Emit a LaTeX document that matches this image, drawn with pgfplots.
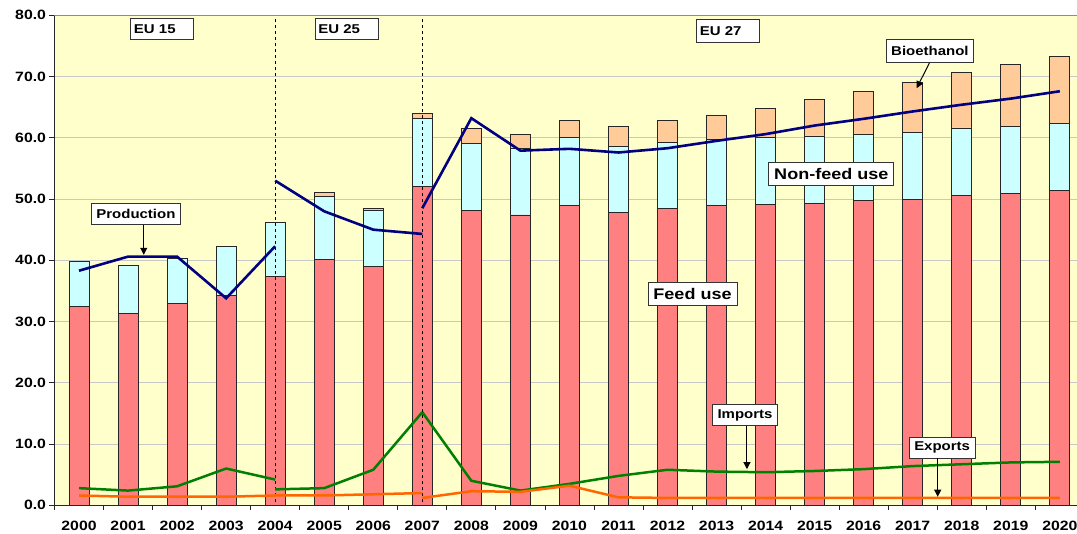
\documentclass[border=0pt]{standalone}
\usepackage{fontspec}
\setmainfont{Liberation Sans}[FakeStretch=1.17]
\usepackage{pgfplots}
\pgfplotsset{compat=1.18}
\usetikzlibrary{arrows.meta}
\definecolor{bgyellow}{HTML}{FFFFCC}
\definecolor{feedred}{HTML}{FF8080}
\definecolor{nfcyan}{HTML}{CCFFFF}
\definecolor{biopeach}{HTML}{FFCC99}
\definecolor{gridgray}{HTML}{C8C8C8}
\definecolor{barline}{HTML}{262626}
\definecolor{prodnavy}{HTML}{000080}
\definecolor{impgreen}{HTML}{008000}
\definecolor{exporange}{HTML}{FF6600}
\tikzset{
  lbl/.style={draw=black!80, fill=white, line width=0.8pt, inner xsep=5pt,
              font=\bfseries\fontsize{12.8}{14}\selectfont, minimum height=21pt},
  big/.style={lbl, font=\bfseries\fontsize{15.4}{16}\selectfont, minimum height=23pt, inner xsep=5.5pt},
  eu/.style={lbl, text width=57pt, align=left, inner xsep=3pt},
  ar/.style={-{Triangle[length=7pt,width=7pt]}, line width=1pt, draw=black},
}
\pgfplotsset{
  base/.style={scale only axis, width=1022.5pt, height=490pt,
    xmin=-0.5, xmax=20.35, ymin=0, ymax=80},
}
\begin{document}
\begin{tikzpicture}
% bars
\begin{axis}[base, ybar stacked, bar width=20pt,
  axis background/.style={fill=bgyellow},
  axis x line*=bottom, axis y line*=left,
  axis line style={-, draw=black!85, line width=0.9pt},
  ytick={0,10,...,80}, ymajorgrids,
  grid style={draw=gridgray, line width=0.8pt},
  xtick={-0.5,0.5,...,20.5}, xticklabels={},
  extra x ticks={0,1,...,20},
  extra x tick labels={2000,2001,2002,2003,2004,2005,2006,2007,2008,2009,2010,2011,2012,2013,2014,2015,2016,2017,2018,2019,2020},
  extra x tick style={major tick length=0pt, tick style={draw=none}},
  tick align=outside, major tick length=5pt,
  tick style={draw=black!85, line width=0.8pt},
  /pgf/number format/assume math mode=true,
  yticklabel style={font=\bfseries\fontsize{13.5}{14}\selectfont,
    /pgf/number format/.cd, fixed, fixed zerofill, precision=1},
  xticklabel style={font=\bfseries\fontsize{13.5}{14}\selectfont, yshift=-12pt},
]
\addplot[fill=feedred, draw=barline, line width=0.9pt] coordinates {
(0,32.4) (1,31.3) (2,33.0) (3,34.2) (4,37.3) (5,40.2) (6,39.0) (7,52.1)
(8,48.1) (9,47.4) (10,49.0) (11,47.8) (12,48.5) (13,48.9) (14,49.1)
(15,49.3) (16,49.7) (17,50.0) (18,50.6) (19,50.9) (20,51.4)};
\addplot[fill=nfcyan, draw=barline, line width=0.9pt] coordinates {
(0,7.4) (1,7.8) (2,7.3) (3,8.1) (4,8.9) (5,10.2) (6,9.1) (7,11.0)
(8,10.9) (9,10.9) (10,11.0) (11,10.8) (12,10.8) (13,10.8) (14,11.0)
(15,11.0) (16,10.9) (17,10.9) (18,11.0) (19,10.9) (20,10.9)};
\addplot[fill=biopeach, draw=barline, line width=0.9pt] coordinates {
(0,0) (1,0) (2,0) (3,0) (4,0) (5,0.7) (6,0.4) (7,0.8)
(8,2.5) (9,2.3) (10,2.8) (11,3.3) (12,3.5) (13,4.0) (14,4.7)
(15,6.0) (16,7.0) (17,8.1) (18,9.1) (19,10.1) (20,10.9)};
\draw[draw=black!45, line width=0.9pt] (rel axis cs:0,1) -- (rel axis cs:1,1);
\end{axis}
% lines and labels
\begin{axis}[base, hide axis, clip=false]
\addplot[black, dashed, line width=0.8pt, dash pattern=on 3pt off 3pt] coordinates {(4,0.5) (4,79.5)};
\addplot[black, dashed, line width=0.8pt, dash pattern=on 3pt off 3pt] coordinates {(7,0.5) (7,79.5)};
% production
\addplot[prodnavy, line width=2.6pt] coordinates {(0,38.3) (1,40.6) (2,40.6) (3,33.8) (4,42.3)};
\addplot[prodnavy, line width=2.6pt] coordinates {(4,53.0) (5,48.0) (6,45.0) (7,44.3)};
\addplot[prodnavy, line width=2.6pt] coordinates {(7,48.5) (8,63.2) (9,57.9) (10,58.2)
 (11,57.6) (12,58.3) (13,59.5) (14,60.6) (15,62.0) (16,63.1) (17,64.3) (18,65.4) (19,66.4) (20,67.6)};
% imports
\addplot[impgreen, line width=2.5pt] coordinates {(0,2.8) (1,2.4) (2,3.1) (3,6.0) (4,4.2)};
\addplot[impgreen, line width=2.5pt] coordinates {(4,2.6) (5,2.8) (6,5.8) (7,15.2)};
\addplot[impgreen, line width=2.5pt] coordinates {(7,15.2) (8,4.0) (9,2.4) (10,3.5)
 (11,4.8) (12,5.8) (13,5.5) (14,5.4) (15,5.6) (16,5.9) (17,6.4) (18,6.7) (19,7.0) (20,7.1)};
% exports
\addplot[exporange, line width=2.5pt] coordinates {(0,1.6) (1,1.4) (2,1.4) (3,1.4) (4,1.6)};
\addplot[exporange, line width=2.5pt] coordinates {(4,1.6) (5,1.6) (6,1.8) (7,2.0)};
\addplot[exporange, line width=2.5pt] coordinates {(7,1.2) (8,2.3) (9,2.2) (10,3.2)
 (11,1.3) (12,1.2) (13,1.2) (14,1.2) (15,1.2) (16,1.2) (17,1.2) (18,1.2) (19,1.2) (20,1.2)};
% labels
\node[eu] at (axis cs:1.70,77.7) {EU 15};
\node[eu] at (axis cs:5.46,77.7) {EU 25};
\node[eu, minimum height=23pt] at (axis cs:13.24,77.5) {EU 27};
\node[lbl] at (axis cs:1.16,47.5) {Production};
\draw[ar] (axis cs:1.32,45.8) -- (axis cs:1.32,40.9);
\node[lbl, minimum height=23pt] at (axis cs:17.35,74.25) {Bioethanol};
\draw[ar] (axis cs:17.34,72.2) -- (axis cs:17.08,68.1);
\node[big] at (axis cs:15.34,54.06) {Non-feed use};
\node[big] at (axis cs:12.51,34.5) {Feed use};
\node[lbl] at (axis cs:13.58,14.7) {Imports};
\draw[ar] (axis cs:13.62,13.0) -- (axis cs:13.62,5.9);
\node[lbl] at (axis cs:17.6,9.4) {Exports};
\draw[ar] (axis cs:17.51,7.7) -- (axis cs:17.51,1.4);
\end{axis}
\pgfresetboundingbox
\path (-54.5pt,-28.7pt) rectangle (1022.5pt,505.3pt);
\end{tikzpicture}
\end{document}
